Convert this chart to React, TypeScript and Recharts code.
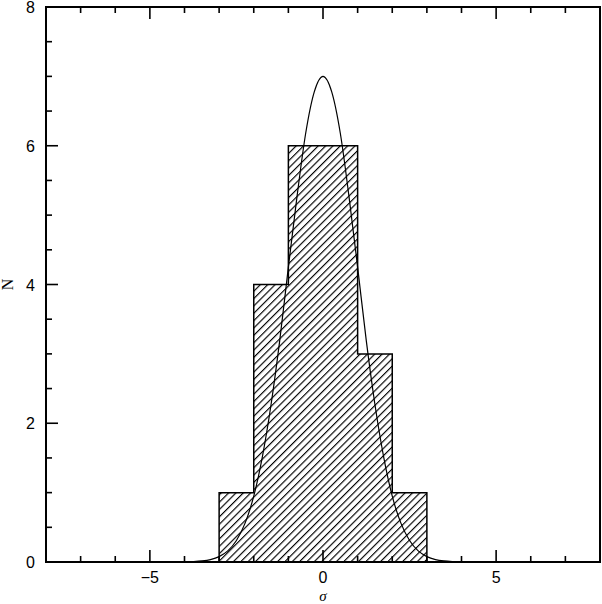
import { ComposedChart, Area, Line, Scatter, XAxis, YAxis, ReferenceArea } from "recharts";

// histogram of residuals
const binEdges = [-3, -2, -1, 0, 1, 2, 3];
const binCounts = [1, 4, 6, 6, 3, 1];

// gaussian overlay
const curveX = [
  -4.5, -4, -3.75, -3.5, -3.25, -3, -2.75, -2.5, -2.25, -2, -1.75, -1.5, -1.25, -1, -0.75, -0.5, -0.25, 0,
  0.25, 0.5, 0.75, 1, 1.25, 1.5, 1.75, 2, 2.25, 2.5, 2.75, 3, 3.25, 3.5, 3.75, 4, 4.5,
];
const curveY = [
  0, 0.002, 0.006, 0.015, 0.035, 0.078, 0.16, 0.31, 0.56, 0.95, 1.52, 2.27, 3.19, 4.25, 5.27, 6.18, 6.78, 7.0,
  6.78, 6.18, 5.27, 4.25, 3.19, 2.27, 1.52, 0.95, 0.56, 0.31, 0.16, 0.078, 0.035, 0.015, 0.006, 0.002, 0,
];

const xTicks = [-7, -6, -5, -4, -3, -2, -1, 0, 1, 2, 3, 4, 5, 6, 7];
const yTicks = [0, 0.5, 1, 1.5, 2, 2.5, 3, 3.5, 4, 4.5, 5, 5.5, 6, 6.5, 7, 7.5, 8];
const xDomain = [-8, 8];
const yDomain = [0, 8];

const histData = [
  { x: binEdges[0], n: 0 },
  ...binCounts.map((c, i) => ({ x: binEdges[i], n: c })),
  { x: binEdges[binEdges.length - 1], n: 0 },
];
const curveData = curveX.map((x, i) => ({ x, y: curveY[i] }));
// tick marks along the top frame
const topTicks = xTicks.map((x) => ({ x, y: yDomain[1] }));

const fmt = (v: number) => (v < 0 ? `\u2212${-v}` : `${v}`);
const numFont = "'Liberation Sans', Arial, sans-serif";
const serif = "'Liberation Serif', 'DejaVu Serif', serif";
const isMajorX = (v: number) => v % 5 === 0;

const XTick = (props: any) => {
  const { x, y, payload } = props;
  const len = isMajorX(payload.value) ? 12 : 6;
  return (
    <g>
      <line x1={x} x2={x} y1={y} y2={y - len} stroke="#000" strokeWidth={1.6} />
      {isMajorX(payload.value) && (
        <text x={x} y={y + 21} textAnchor="middle" fontSize={16} fontFamily={numFont} fill="#000">
          {fmt(payload.value)}
        </text>
      )}
    </g>
  );
};

const TopTick = (props: any) => {
  const { cx, cy, payload } = props;
  const len = isMajorX(payload.x) ? 12 : 6;
  return <line x1={cx} x2={cx} y1={cy} y2={cy + len} stroke="#000" strokeWidth={1.6} />;
};

const YTick = (side: "left" | "right") => (props: any) => {
  const { x, y, payload } = props;
  const major = payload.value % 2 === 0;
  const len = major ? 12 : 6;
  const dir = side === "left" ? 1 : -1;
  return (
    <g>
      <line x1={x} x2={x + dir * len} y1={y} y2={y} stroke="#000" strokeWidth={1.6} />
      {side === "left" && major && (
        <text x={x - 11} y={y + 6} textAnchor="end" fontSize={16} fontFamily={numFont} fill="#000">
          {fmt(payload.value)}
        </text>
      )}
    </g>
  );
};

export default function App() {
  return (
    <div style={{ position: "absolute", left: 0, top: 0, background: "#fff" }}>
      <ComposedChart
        width={602}
        height={604}
        margin={{ top: 7, right: 1, left: 0, bottom: 0 }}
        style={{ overflow: "visible" }}
      >
        <defs>
          <pattern id="hatch" width={5.2} height={5.2} patternUnits="userSpaceOnUse" patternTransform="rotate(45)">
            <line x1={0} y1={0} x2={0} y2={5.2} stroke="#000" strokeWidth={2.3} />
          </pattern>
        </defs>
        <XAxis
          type="number"
          dataKey="x"
          domain={xDomain}
          ticks={xTicks}
          interval={0}
          height={42}
          tickSize={0}
          tickMargin={0}
          tickLine={false}
          axisLine={{ stroke: "#000", strokeWidth: 2 }}
          tick={XTick}
          label={{
            content: (p: any) => (
              <text
                x={p.viewBox.x + p.viewBox.width / 2}
                y={p.viewBox.y + 39}
                textAnchor="middle"
                fontSize={15}
                fontStyle="italic"
                fontFamily={serif}
                fill="#000"
              >
                σ
              </text>
            ),
          }}
        />
        <YAxis
          yAxisId={0}
          type="number"
          domain={yDomain}
          ticks={yTicks}
          interval={0}
          width={46}
          tickSize={0}
          tickMargin={0}
          tickLine={false}
          axisLine={{ stroke: "#000", strokeWidth: 2 }}
          tick={YTick("left")}
          label={{
            content: (p: any) => {
              const cx = p.viewBox.x + 13;
              const cy = p.viewBox.y + p.viewBox.height / 2;
              return (
                <text
                  x={cx}
                  y={cy}
                  transform={`rotate(-90, ${cx}, ${cy})`}
                  textAnchor="middle"
                  fontSize={16}
                  fontFamily={serif}
                  fill="#000"
                >
                  N
                </text>
              );
            },
          }}
        />
        <YAxis
          yAxisId="right"
          orientation="right"
          type="number"
          domain={yDomain}
          ticks={yTicks}
          interval={0}
          width={1}
          tickSize={0}
          tickMargin={0}
          tickLine={false}
          axisLine={{ stroke: "#000", strokeWidth: 2 }}
          tick={YTick("right")}
        />
        <ReferenceArea
          x1={xDomain[0]}
          x2={xDomain[1]}
          y1={yDomain[0]}
          y2={yDomain[1]}
          fill="none"
          fillOpacity={0}
          stroke="#000"
          strokeWidth={2}
          ifOverflow="visible"
        />
        <Area
          data={histData}
          dataKey="n"
          type="stepAfter"
          stroke="#000"
          strokeWidth={1.5}
          fill="url(#hatch)"
          fillOpacity={1}
          isAnimationActive={false}
        />
        <Line
          data={curveData}
          dataKey="y"
          type="monotone"
          stroke="#000"
          strokeWidth={1.2}
          dot={false}
          isAnimationActive={false}
        />
        <Scatter data={topTicks} dataKey="y" shape={TopTick} isAnimationActive={false} />
      </ComposedChart>
    </div>
  );
}
